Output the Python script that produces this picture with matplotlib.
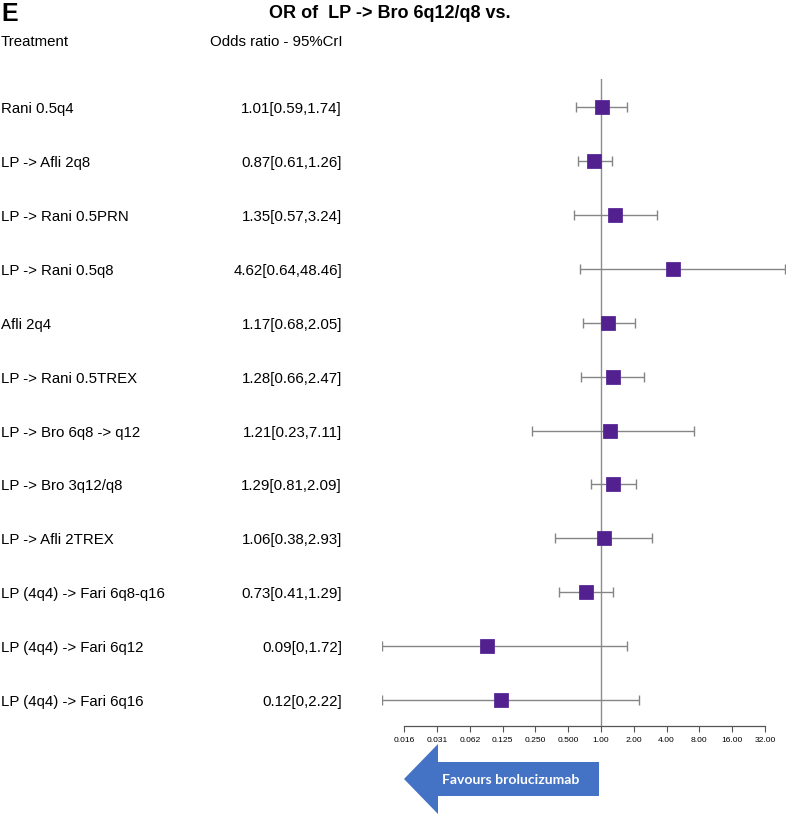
import matplotlib
matplotlib.use("Agg")
import matplotlib.pyplot as plt
import matplotlib.transforms as mtransforms
from matplotlib.patches import Polygon
import numpy as np

plt.rcParams['font.family'] = ['Liberation Sans', 'DejaVu Sans']

treatments = ["Rani 0.5q4", "LP -> Afli 2q8", "LP -> Rani 0.5PRN", "LP -> Rani 0.5q8",
              "Afli 2q4", "LP -> Rani 0.5TREX", "LP -> Bro 6q8 -> q12", "LP -> Bro 3q12/q8",
              "LP -> Afli 2TREX", "LP (4q4) -> Fari 6q8-q16", "LP (4q4) -> Fari 6q12",
              "LP (4q4) -> Fari 6q16"]
odds = [1.01, 0.87, 1.35, 4.62, 1.17, 1.28, 1.21, 1.29, 1.06, 0.73, 0.09, 0.12]
lower = [0.59, 0.61, 0.57, 0.64, 0.68, 0.66, 0.23, 0.81, 0.38, 0.41, 0, 0]
upper = [1.74, 1.26, 3.24, 48.46, 2.05, 2.47, 7.11, 2.09, 2.93, 1.29, 1.72, 2.22]
labels_txt = ["1.01[0.59,1.74]", "0.87[0.61,1.26]", "1.35[0.57,3.24]", "4.62[0.64,48.46]",
              "1.17[0.68,2.05]", "1.28[0.66,2.47]", "1.21[0.23,7.11]", "1.29[0.81,2.09]",
              "1.06[0.38,2.93]", "0.73[0.41,1.29]", "0.09[0,1.72]", "0.12[0,2.22]"]
tick_vals = [2.0**k for k in range(-6, 6)]
tick_labels = ["0.016", "0.031", "0.062", "0.125", "0.250", "0.500",
               "1.00", "2.00", "4.00", "8.00", "16.00", "32.00"]

W, H = 786, 815
fig = plt.figure(figsize=(W/100, H/100), dpi=100)

def fx(px):
    return px / W

def fy(py):
    return 1 - py / H

ax_left, ax_right, ax_top, ax_bot = 382, 786, 79, 726
ax = fig.add_axes([fx(ax_left), fy(ax_bot), fx(ax_right - ax_left), (ax_bot - ax_top) / H])
ax.set_xscale('log', base=2)
XMIN, XMAX = 0.00975, 49.9
ax.set_xlim(XMIN, XMAX)
n = len(treatments)
ax.set_ylim(n - 1 + 0.48, -0.52)

y = np.arange(n)
lo = np.maximum(np.array(lower, dtype=float), XMIN * 1.001)
hi = np.minimum(np.array(upper, dtype=float), XMAX * 0.999)
od = np.array(odds)

ax.axvline(1.0, color='#8c8c8c', lw=1.0, zorder=1)
ax.errorbar(od, y, xerr=[od - lo, hi - od], fmt='none', ecolor='#858585',
            elinewidth=1.0, capsize=3.6, capthick=1.0, zorder=2)
ax.plot(od, y, 's', color='#52208f', markersize=10.4, markeredgecolor='#5a2a98',
        markeredgewidth=0.6, zorder=3)

for s in ['top', 'right', 'left']:
    ax.spines[s].set_visible(False)
ax.spines['bottom'].set_bounds(tick_vals[0], tick_vals[-1])
ax.spines['bottom'].set_color('#555555')
ax.spines['bottom'].set_linewidth(0.9)
ax.set_yticks([])
ax.set_xticks(tick_vals)
ax.set_xticklabels(tick_labels, fontsize=6.1)
ax.xaxis.set_minor_locator(matplotlib.ticker.NullLocator())
ax.tick_params(axis='x', direction='out', length=4, width=0.8, color='#555555', pad=4)

trans = mtransforms.blended_transform_factory(fig.transFigure, ax.transData)
down = mtransforms.ScaledTranslation(0, -2/100, fig.dpi_scale_trans)
for i in range(n):
    fig.text(fx(1), i, treatments[i], transform=trans + down, fontsize=10.8, va='center', ha='left')
    fig.text(fx(342), i, labels_txt[i], transform=trans + down, fontsize=10.8, va='center', ha='right')

fig.text(fx(1), fy(42), "Treatment", fontsize=10.8, va='center', ha='left')
fig.text(fx(342), fy(42), "Odds ratio - 95%CrI", fontsize=10.8, va='center', ha='right')
fig.text(fx(390), fy(13), "OR of  LP -> Bro 6q12/q8 vs.", fontsize=13, fontweight='bold',
         va='center', ha='center')
fig.text(fx(1), fy(14), "E", fontsize=18, fontweight='bold', va='center', ha='left')

arrow_px = [(404, 779), (438, 744), (438, 762), (599, 762), (599, 796), (438, 796), (438, 814)]
arrow = Polygon([(fx(a), fy(b)) for a, b in arrow_px], closed=True, transform=fig.transFigure,
                facecolor='#4472c4', edgecolor='none')
fig.patches.append(arrow)
fig.text(fx(511), fy(780), "Favours brolucizumab", fontsize=10.1, fontweight='bold',
         color='white', va='center', ha='center', family=['Lato', 'DejaVu Sans'])

fig.savefig("out.png", dpi=100)
